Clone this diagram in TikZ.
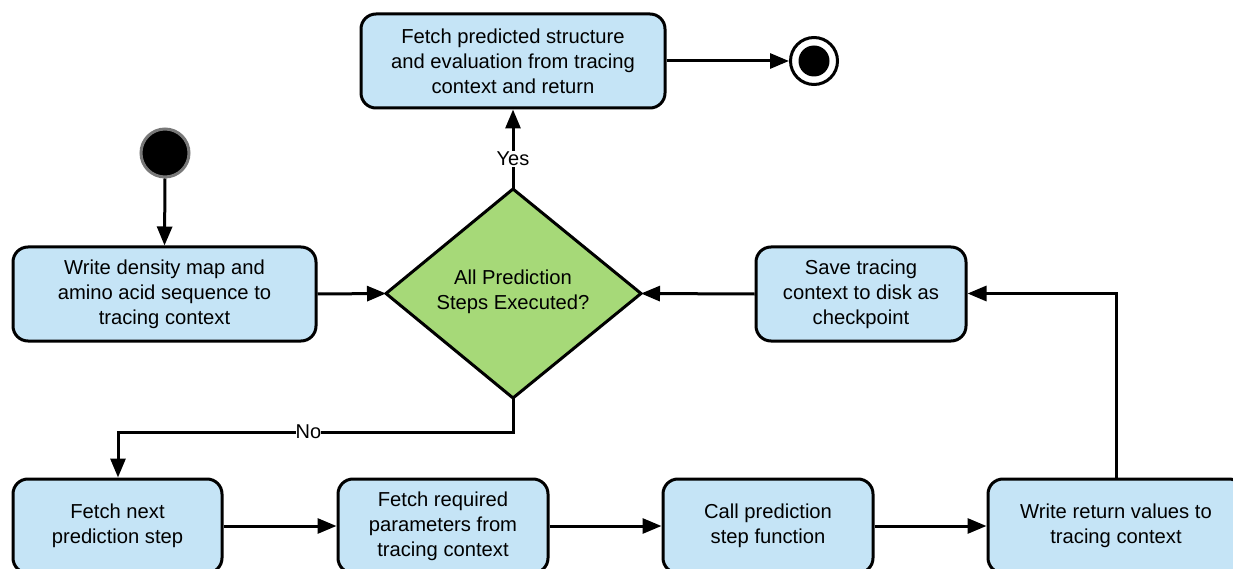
\documentclass[tikz,border=0pt]{standalone}
\usepackage{fontspec}
\setmainfont{Liberation Sans}
\usetikzlibrary{arrows.meta,shapes.geometric}
\definecolor{boxblue}{RGB}{197,228,246}
\definecolor{decgreen}{RGB}{166,217,120}
\definecolor{ringgray}{RGB}{120,120,120}
\tikzset{
  act/.style={draw=black, line width=3pt, fill=boxblue, rounded corners=15pt,
    align=center, inner sep=0pt, font=\fontsize{20.2}{25}\selectfont},
  flow/.style={line width=3pt, -{Triangle[length=19pt,width=15pt]}},
  lbl/.style={fill=white, inner sep=1pt, font=\fontsize{20}{24}\selectfont},
}
\begin{document}
\begin{tikzpicture}[x=1pt,y=-1pt]
\useasboundingbox (0,0) rectangle (1233,569);

% activity boxes
\node[act, minimum width=304pt, minimum height=94pt] (fetchres) at (513,61)
  {Fetch predicted structure\\and evaluation from tracing\\context and return};
\node[act, minimum width=303pt, minimum height=94pt] (write) at (164.5,294)
  {Write density map and\\amino acid sequence to\\tracing context};
\node[act, minimum width=210pt, minimum height=94pt] (save) at (861,294)
  {Save tracing\\context to disk as\\checkpoint};
\node[act, minimum width=209pt, minimum height=94pt] (next) at (117.5,526)
  {Fetch next\\prediction step};
\node[act, minimum width=210pt, minimum height=94pt] (params) at (443,526)
  {Fetch required\\parameters from\\tracing context};
\node[act, minimum width=210pt, minimum height=94pt] (call) at (768,526)
  {Call prediction\\step function};
\node[act, minimum width=256pt, minimum height=94pt] (ret) at (1116,526)
  {Write return values to\\tracing context};

% decision
\draw[line width=3pt, fill=decgreen, line join=miter]
  (513,189) coordinate (dtop) -- (641,293.5) coordinate (dright)
  -- (513,398) coordinate (dbot) -- (386,293.5) coordinate (dleft) -- cycle;
\node[align=center, font=\fontsize{20.2}{25}\selectfont] (dec) at (513,292)
  {All Prediction\\Steps Executed?};

% initial and final states
\node[circle, fill=black, draw=ringgray, line width=3pt, minimum size=48pt,
  inner sep=0pt] (start) at (165,153) {};
\node[circle, draw=black, line width=3pt, fill=white, minimum size=47pt,
  inner sep=0pt] (final) at (814,61) {};
\node[circle, fill=black, minimum size=31pt, inner sep=0pt] (finaldot) at (814,61) {};

% connectors
\draw[flow] (start.south) -- (write.north);
\draw[flow] (write.east) -- (dleft);
\draw[flow] (save.west) -- (dright);
\draw[flow] (dtop) -- node[lbl, pos=0.38] (yes) {Yes} (fetchres.south);
\draw[flow] (fetchres.east) -- (final.west);
\coordinate (nobend) at (513,432);
\coordinate (noleft) at (118,432);
\draw[flow] (dbot) -- (nobend) -- node[lbl, pos=0.518, inner sep=0pt] (no) {No} (noleft) -- (next.north -| noleft);
\draw[flow] (next.east) -- (params.west);
\draw[flow] (params.east) -- (call.west);
\draw[flow] (call.east) -- (ret.west);
\coordinate (upturn) at (1116,293.5);
\draw[flow] (ret.north) -- (upturn) -- (save.east |- upturn);
\end{tikzpicture}
\end{document}
